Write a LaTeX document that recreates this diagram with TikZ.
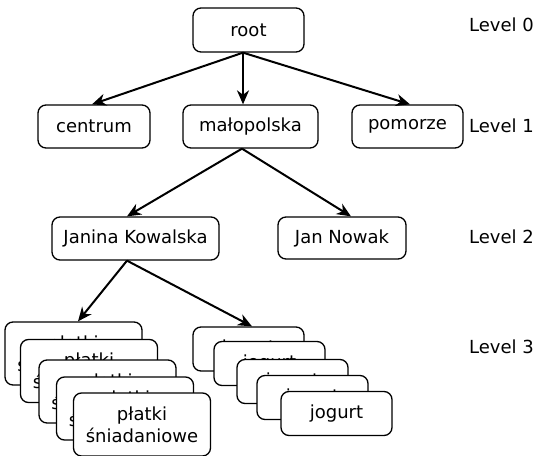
\documentclass[tikz,border=0pt]{standalone}
\usepackage{fontspec}
\setmainfont{DejaVu Sans}
\usetikzlibrary{arrows.meta}

\begin{document}
\begin{tikzpicture}[x=0.5pt,y=-0.5pt,
    every node/.style={font=\fontsize{9}{11}\selectfont},
    box/.style={draw, line width=0.65pt, rounded corners=4pt, fill=white, inner sep=0pt, minimum height=21.5pt},
    arr/.style={line width=1pt, -{Stealth[length=7pt,width=6pt,inset=2.2pt]}}]
    \useasboundingbox (0,0) rectangle (546,455);
    % level 0 and 1
    \node[box, minimum width=55.5pt, minimum height=22pt] (root) at (248.5,30) {root};
    \node[box, minimum width=56pt] (centrum) at (94,126.5) {centrum};
    \node[box, minimum width=67.5pt] (malo) at (250.5,126.5) {małopolska};
    \node[box, minimum width=55.5pt] (pomorze) at (407.5,126.5) {pomorze};
    % level 2
    \node[box, minimum width=83.5pt] (janina) at (135.5,238.5) {Janina Kowalska};
    \node[box, minimum width=64pt, minimum height=21pt] (nowak) at (342,238) {Jan Nowak};
    % level 3
    \foreach \i/\x/\y in {1/73.5/353.5, 2/89/371, 3/107.5/391.5, 4/125/408.5, 5/142/424.5}
    \node[box, minimum width=68.5pt, minimum height=31.5pt, align=center] (p\i) at (\x,\y) {płatki\\śniadaniowe};
    \foreach \i/\x/\y in {1/248.5/349, 2/269.5/363.5, 3/292.5/381.5, 4/312.5/397.5, 5/336.5/413.5}
    \node[box, minimum width=55.5pt, minimum height=22pt] (j\i) at (\x,\y) {jogurt};
    % levels
    \node[anchor=west] (l0) at (462,24.5) {Level 0};
    \node[anchor=west] (l1) at (462,126) {Level 1};
    \node[anchor=west] (l2) at (462,237) {Level 2};
    \node[anchor=west] (l3) at (462,346.5) {Level 3};
    % edges
    \foreach \from/\sx/\to/\dx in
    {root/-2.75/centrum/-1, root/-2.75/malo/-3.75, root/-2.75/pomorze/1.25,
     malo/-4.25/janina/-4.25, malo/-4.25/nowak/4.5,
     janina/-4.25/p1/2.25, janina/-4.25/j1/1.75}
    \draw[arr] ([xshift=\sx pt]\from.south) -- ([xshift=\dx pt]\to.north);
\end{tikzpicture}
\end{document}
